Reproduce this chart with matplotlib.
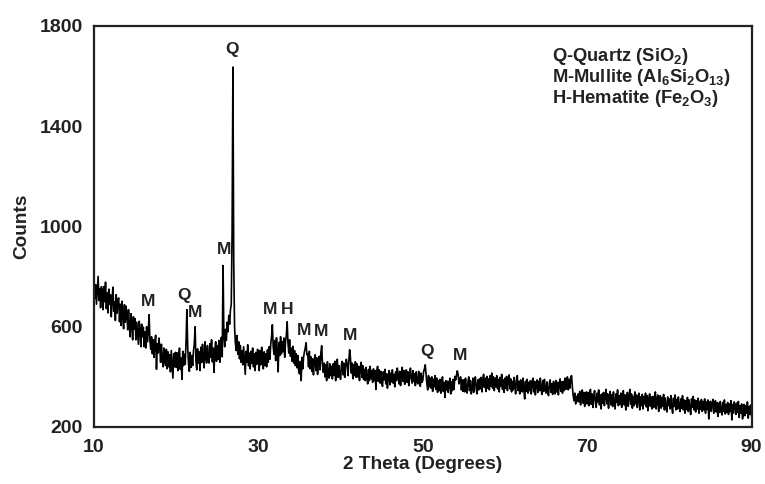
import matplotlib
matplotlib.use("Agg")
import matplotlib.pyplot as plt
import numpy as np

plt.rcParams['font.family'] = ['Liberation Sans', 'DejaVu Sans']
plt.rcParams['font.weight'] = 'bold'
plt.rcParams['mathtext.fontset'] = 'custom'
plt.rcParams['mathtext.rm'] = 'Liberation Sans:bold'
plt.rcParams['mathtext.bf'] = 'Liberation Sans:bold'
plt.rcParams['mathtext.default'] = 'bf'

# XRD scan, 2theta from 10 to 90 deg in 0.1 deg steps (one row per degree)
theta_start = 10.0
theta_step = 0.1
counts = [
    790, 712, 768, 690, 745, 801, 705, 752, 676, 760,   # 10
    742, 668, 760, 700, 778, 672, 735, 655, 750, 690,   # 11
    728, 640, 712, 758, 662, 700, 625, 728, 654, 705,   # 12
    715, 620, 690, 605, 702, 640, 592, 688, 618, 682,   # 13
    645, 588, 668, 600, 560, 652, 615, 548, 640, 590,   # 14
    632, 548, 618, 575, 530, 622, 590, 520, 610, 560,   # 15
    598, 520, 580, 515, 600, 540, 580, 648, 545, 510,   # 16
    560, 492, 548, 478, 540, 566, 430, 532, 495, 555,   # 17
    520, 458, 530, 470, 440, 515, 468, 445, 510, 432,   # 18
    500, 440, 488, 420, 505, 452, 395, 492, 440, 498,   # 19
    438, 496, 425, 480, 515, 430, 475, 390, 502, 445,   # 20
    490, 450, 545, 668, 520, 450, 422, 498, 438, 485,   # 21
    445, 505, 530, 600, 462, 428, 512, 455, 500, 425,   # 22
    518, 458, 530, 470, 436, 540, 480, 455, 525, 470,   # 23
    455, 532, 478, 548, 460, 515, 418, 508, 540, 462,   # 24
    525, 470, 545, 458, 532, 558, 480, 844, 560, 520,   # 25
    590, 545, 618, 580, 645, 610, 668, 690, 980, 1636,  # 26
    860, 600, 535, 505, 565, 490, 540, 472, 525, 458,   # 27
    505, 448, 520, 466, 410, 502, 458, 528, 444, 495,   # 28
    432, 502, 455, 515, 440, 492, 425, 498, 450, 510,   # 29
    482, 425, 505, 448, 518, 462, 432, 500, 445, 492,   # 30
    440, 508, 458, 520, 470, 530, 560, 608, 520, 490,   # 31
    545, 465, 556, 500, 420, 538, 485, 560, 492, 540,   # 32
    500, 555, 478, 540, 565, 620, 535, 495, 548, 482,   # 33
    515, 462, 522, 455, 505, 445, 492, 436, 485, 425,   # 34
    412, 462, 385, 478, 432, 480, 500, 515, 536, 488,   # 35
    492, 440, 502, 432, 480, 422, 472, 408, 468, 488,   # 36
    425, 476, 410, 462, 482, 428, 495, 524, 448, 418,   # 37
    455, 400, 448, 385, 460, 410, 395, 452, 405, 442,   # 38
    392, 452, 405, 462, 385, 440, 470, 398, 445, 405,   # 39
    390, 448, 462, 408, 455, 398, 442, 470, 450, 405,   # 40
    462, 508, 475, 415, 455, 392, 448, 405, 460, 398,   # 41
    452, 400, 442, 385, 438, 458, 398, 445, 390, 430,   # 42
    385, 438, 395, 372, 430, 385, 442, 392, 425, 378,   # 43
    432, 385, 425, 350, 420, 442, 382, 428, 375, 422,   # 44
    380, 362, 420, 388, 430, 372, 412, 355, 405, 425,   # 45
    368, 415, 380, 428, 375, 410, 360, 420, 385, 435,   # 46
    410, 372, 422, 365, 415, 438, 382, 425, 370, 412,   # 47
    428, 378, 420, 365, 408, 435, 392, 375, 425, 382,   # 48
    412, 365, 420, 380, 372, 422, 385, 362, 415, 378,   # 49
    385, 420, 432, 448, 412, 372, 348, 405, 360, 395,   # 50
    355, 400, 342, 390, 360, 405, 350, 395, 338, 385,   # 51
    345, 390, 335, 382, 400, 342, 378, 318, 385, 348,   # 52
    382, 338, 376, 395, 332, 380, 345, 390, 350, 402,   # 53
    388, 405, 424, 410, 372, 382, 400, 348, 388, 342,   # 54
    388, 340, 395, 352, 335, 382, 400, 345, 385, 332,   # 55
    350, 395, 338, 382, 400, 352, 332, 388, 348, 392,   # 56
    352, 398, 340, 388, 410, 358, 395, 342, 402, 355,   # 57
    392, 348, 405, 362, 415, 355, 400, 345, 395, 360,   # 58
    405, 352, 390, 340, 398, 362, 410, 350, 388, 338,   # 59
    395, 355, 402, 345, 385, 408, 352, 392, 340, 382,   # 60
    348, 398, 362, 332, 392, 405, 345, 382, 332, 388,   # 61
    380, 340, 395, 350, 312, 382, 342, 390, 335, 378,   # 62
    345, 385, 332, 378, 395, 340, 382, 328, 375, 388,   # 63
    338, 382, 345, 395, 350, 330, 385, 342, 390, 348,   # 64
    335, 380, 342, 325, 375, 388, 338, 372, 330, 382,   # 65
    370, 332, 385, 340, 378, 328, 372, 392, 342, 380,   # 66
    335, 382, 345, 395, 350, 385, 400, 348, 390, 355,   # 67
    398, 405, 360, 325, 305, 335, 292, 322, 302, 332,   # 68
    300, 342, 288, 332, 348, 295, 338, 282, 325, 340,   # 69
    292, 338, 285, 328, 350, 290, 332, 278, 325, 345,   # 70
    298, 278, 335, 300, 348, 288, 328, 272, 332, 295,   # 71
    338, 285, 325, 350, 292, 332, 275, 320, 342, 288,   # 72
    328, 282, 340, 292, 272, 332, 298, 348, 285, 325,   # 73
    290, 335, 278, 325, 345, 288, 328, 268, 320, 338,   # 74
    282, 325, 350, 290, 332, 275, 322, 285, 340, 292,   # 75
    328, 278, 318, 335, 268, 320, 285, 330, 272, 322,   # 76
    292, 335, 280, 325, 265, 312, 332, 282, 320, 272,   # 77
    322, 278, 315, 340, 272, 310, 328, 262, 312, 325,   # 78
    275, 318, 282, 330, 268, 315, 280, 260, 320, 285,   # 79
    312, 272, 325, 278, 255, 315, 282, 328, 268, 310,   # 80
    272, 320, 280, 262, 312, 275, 325, 268, 308, 255,   # 81
    305, 270, 318, 262, 308, 272, 250, 312, 278, 322,   # 82
    268, 308, 260, 305, 272, 315, 255, 302, 270, 310,   # 83
    262, 302, 268, 312, 255, 300, 270, 308, 232, 298,   # 84
    302, 262, 295, 310, 255, 292, 305, 260, 298, 242,   # 85
    295, 258, 302, 265, 248, 298, 262, 308, 252, 290,   # 86
    258, 298, 250, 292, 262, 305, 228, 290, 255, 300,   # 87
    288, 250, 295, 258, 302, 238, 285, 255, 292, 232,   # 88
    252, 290, 245, 285, 255, 300, 235, 282, 250, 288,   # 89
    245,                                                # 90
]

# phase labels placed above peaks: (letter, 2theta, counts)
peak_letters = ['M', 'Q', 'M', 'M', 'Q', 'M', 'H', 'M', 'M', 'M', 'Q', 'M']
peak_theta = [16.6, 21.0, 22.3, 25.8, 26.8, 31.4, 33.5, 35.6, 37.6, 41.1, 50.5, 54.5]
peak_counts = [700, 724, 656, 908, 1705, 668, 668, 584, 580, 564, 500, 484]

legend_lines = [
    r'Q-Quartz (SiO$_2$)',
    r'M-Mullite (Al$_6$Si$_2$O$_{13}$)',
    r'H-Hematite (Fe$_2$O$_3$)',
]

two_theta = theta_start + theta_step * np.arange(len(counts))

fig = plt.figure(figsize=(7.65, 4.84), dpi=100)
ax = fig.add_axes([0.1229, 0.1178, 0.8595, 0.8285])

ax.plot(two_theta, counts, color='black', lw=1.2)

for letter, t, c in zip(peak_letters, peak_theta, peak_counts):
    ax.text(t, c, letter, ha='center', va='center', fontsize=12.5, fontweight='bold', color='#222222')

for i, line in enumerate(legend_lines):
    ax.text(0.6966, 0.925 - i * 0.0525, line, transform=ax.transAxes,
            ha='left', va='center', fontsize=13.2, fontweight='bold', color='#222222')

ax.set_xlim(10, 90)
ax.set_ylim(200, 1800)
ax.set_xticks([10, 30, 50, 70, 90])
ax.set_yticks([200, 600, 1000, 1400, 1800])
ax.tick_params(length=0, labelsize=14, colors='#222222')
ax.tick_params(axis='x', pad=9)
ax.tick_params(axis='y', pad=8)
for lab in ax.get_xticklabels() + ax.get_yticklabels():
    lab.set_fontweight('bold')

ax.set_xlabel('2 Theta (Degrees)', fontsize=13.7, fontweight='bold', color='#222222', labelpad=0)
ax.set_ylabel('Counts', fontsize=13.7, fontweight='bold', color='#222222', labelpad=7)

for s in ax.spines.values():
    s.set_linewidth(1.6)
    s.set_color('#222222')

fig.savefig('out.png', dpi=100)
